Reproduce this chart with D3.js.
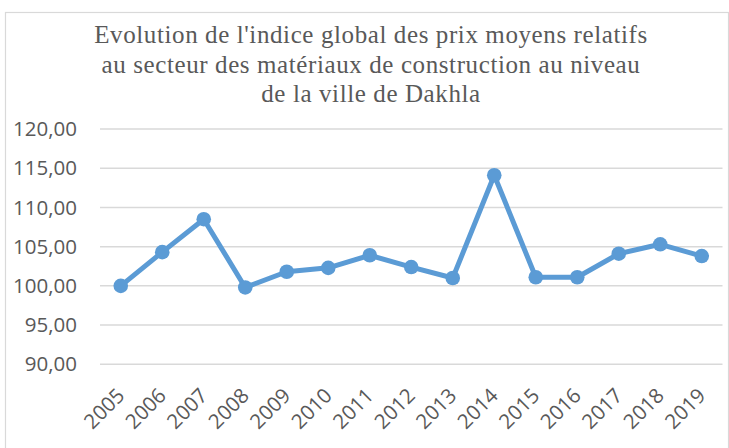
<html lang="fr">
<head>
  <meta charset="UTF-8">
  <title>Dakhla</title>
  <style>
    body {
      margin: 0;
      background-color: #fff;
    }
    .title {
      font-family: 'Liberation Serif', 'Times New Roman', serif;
      font-size: 25px;
      letter-spacing: 0.6px;
      fill: #595959;
      text-anchor: middle;
    }
    .tick-label {
      font-family: 'Open Sans', sans-serif;
      font-size: 20.5px;
      fill: #595959;
    }
    .grid line {
      stroke: #d9d9d9;
      stroke-width: 1.5;
    }
  </style>
</head>
<body>
  <script src="https://d3js.org/d3.v7.min.js"></script>
  <script>
    var years = ['2005', '2006', '2007', '2008', '2009', '2010', '2011', '2012',
                 '2013', '2014', '2015', '2016', '2017', '2018', '2019'];
    var indices = [100.0, 104.3, 108.5, 99.8, 101.8, 102.3, 103.9, 102.4,
                   101.0, 114.1, 101.1, 101.1, 104.1, 105.3, 103.8];
    var yTicks = [90, 95, 100, 105, 110, 115, 120];
    var titleLines = [
      "Evolution de l'indice global des prix moyens relatifs",
      'au secteur des matériaux de construction au niveau',
      'de la ville de Dakhla'
    ];

    var width = 729, height = 448;

    var svg = d3.select('body').append('svg')
      .attr('width', width)
      .attr('height', height);

    // chart frame
    svg.append('rect')
      .attr('x', 5.5).attr('y', 12.5)
      .attr('width', 723).attr('height', 460)
      .attr('fill', 'none')
      .attr('stroke', '#d9d9d9')
      .attr('stroke-width', 1.2);

    svg.selectAll('.title')
      .data(titleLines)
      .enter().append('text')
      .attr('class', 'title')
      .attr('x', 371)
      .attr('y', function(d, i) { return 43 + i * 29.5; })
      .text(function(d) { return d; });

    var x = d3.scalePoint()
      .domain(years)
      .range([100, 722.5])
      .padding(0.5);

    var y = d3.scaleLinear()
      .domain([90, 120])
      .range([364.3, 129]);

    var grid = svg.append('g').attr('class', 'grid');
    grid.selectAll('line')
      .data(yTicks)
      .enter().append('line')
      .attr('x1', 100).attr('x2', 722.5)
      .attr('y1', function(d) { return y(d); })
      .attr('y2', function(d) { return y(d); });

    var fmt = function(d) { return d3.format('.2f')(d).replace('.', ','); };

    svg.selectAll('.y-label')
      .data(yTicks)
      .enter().append('text')
      .attr('class', 'tick-label')
      .attr('x', 77)
      .attr('y', function(d) { return y(d); })
      .attr('dy', '.35em')
      .attr('text-anchor', 'end')
      .text(fmt);

    svg.selectAll('.x-label')
      .data(years)
      .enter().append('text')
      .attr('class', 'tick-label')
      .attr('text-anchor', 'end')
      .attr('transform', function(d) {
        return 'translate(' + (x(d) + 5) + ',397) rotate(-45)';
      })
      .text(function(d) { return d; });

    var line = d3.line()
      .x(function(d, i) { return x(years[i]); })
      .y(function(d) { return y(d); });

    svg.append('path')
      .datum(indices)
      .attr('d', line)
      .attr('fill', 'none')
      .attr('stroke', '#5b9bd5')
      .attr('stroke-width', 5)
      .attr('stroke-linejoin', 'round');

    svg.selectAll('.dot')
      .data(indices)
      .enter().append('circle')
      .attr('cx', function(d, i) { return x(years[i]); })
      .attr('cy', function(d) { return y(d); })
      .attr('r', 7.3)
      .attr('fill', '#5b9bd5');
  </script>
</body>
</html>
